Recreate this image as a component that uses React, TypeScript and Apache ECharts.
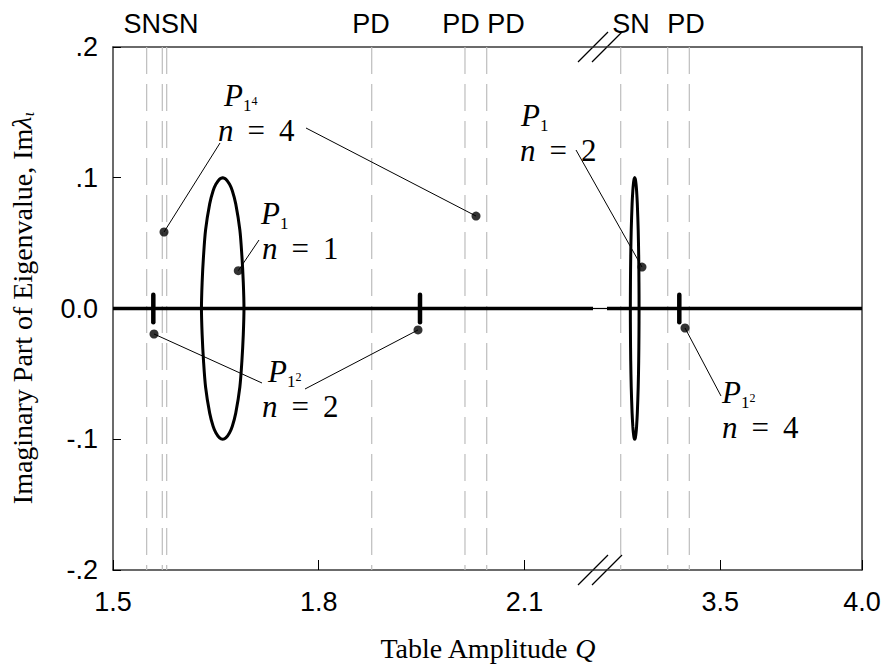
import React, { useEffect, useRef } from "react";
import * as echarts from "echarts";

const SANS = '"Liberation Sans", Arial, sans-serif';
const SERIF = '"Liberation Serif", "Times New Roman", serif';

// Table amplitude Q shown on each side of the axis break
const qLeftRange = [1.5, 2.2];
const qRightRange = [3.1, 4.0];
const qLeftTicks = [1.5, 1.8, 2.1];
const qRightTicks = [3.5, 4.0];
const imRange = [-0.2, 0.2];

// Bifurcation values of Q (dashed verticals) and their tags along the top
const bifurcationsLeft = [1.5491, 1.5719, 1.5783, 1.8773, 2.0133, 2.045];
const bifurcationsRight = [3.1484, 3.3143, 3.3905];
const bifurcationTags = ["SNSN", "PD", "PD", "PD", "SN", "PD"];

// Real eigenvalues: Im = 0 along the whole range
const realAxisLeft = [[1.5, 0], [2.2, 0]];
const realAxisRight = [[3.1, 0], [4.0, 0]];

// Complex-conjugate loop of P1, n = 1
const loopP1n1 = [
  [1.66, 0.1], [1.6645, 0.099], [1.67, 0.095], [1.674, 0.09], [1.679, 0.08], [1.685, 0.06], [1.688, 0.04],
  [1.69, 0.02], [1.691, 0], [1.69, -0.02], [1.688, -0.04], [1.685, -0.06], [1.679, -0.08],
  [1.674, -0.09], [1.67, -0.095], [1.6645, -0.099], [1.66, -0.1], [1.6555, -0.099], [1.65, -0.095],
  [1.646, -0.09], [1.641, -0.08], [1.635, -0.06], [1.632, -0.04], [1.63, -0.02], [1.629, 0],
  [1.63, 0.02], [1.632, 0.04], [1.635, 0.06], [1.641, 0.08], [1.646, 0.09], [1.65, 0.095],
  [1.6555, 0.099], [1.66, 0.1],
];

// Complex-conjugate loop of P1, n = 2
const loopP1n2 = [
  [3.1978, 0.1], [3.2, 0.099], [3.2026, 0.095], [3.2045, 0.09], [3.207, 0.08], [3.2101, 0.06],
  [3.2119, 0.04], [3.2128, 0.02], [3.2132, 0], [3.2128, -0.02], [3.2119, -0.04], [3.2101, -0.06],
  [3.207, -0.08], [3.2045, -0.09], [3.2026, -0.095], [3.2, -0.099], [3.1978, -0.1],
  [3.1956, -0.099], [3.193, -0.095], [3.1911, -0.09], [3.1886, -0.08], [3.1855, -0.06],
  [3.1837, -0.04], [3.1828, -0.02], [3.1824, 0], [3.1828, 0.02], [3.1837, 0.04], [3.1855, 0.06],
  [3.1886, 0.08], [3.1911, 0.09], [3.193, 0.095], [3.1956, 0.099], [3.1978, 0.1],
];

// Short complex excursions
const spurP12n2a = [[1.5588, 0.0105], [1.5588, -0.0105]];
const spurP12n2b = [[1.9477, 0.0105], [1.9477, -0.0105]];
const spurP12n4 = [[3.3552, 0.0105], [3.3552, -0.0105]];

// Marked eigenvalues referred to by the annotations
const markedLeft = [[1.5744, 0.0585], [2.0294, 0.0707], [1.6827, 0.0289], [1.5598, -0.0195], [1.9448, -0.0164]];
const markedRight = [[3.2235, 0.0317], [3.3753, -0.0149]];

// ---- layout ----
const GRID_TOP = 47;
const GRID_H = 523;
const LEFT = 113;
const BREAK_L = 593;
const BREAK_R = 607;
const RIGHT = 862;
const tagX = [161, 371, 461, 506, 631, 686];
const frame = { color: "#3a3a3a", width: 1.5 };
const NOTE_SIZE = 31;
const NOTE_LINE = 34;

type Note = {
  px: number; base: number; sup: string; n: string; nx: number;
  leaders: { from: [number, number]; side: "L" | "R"; dot: number }[];
};
const notes: Note[] = [
  { px: 224, base: 107, sup: "4", n: "4", nx: 218, leaders: [
    { from: [220, 143], side: "L", dot: 0 }, { from: [306, 128], side: "L", dot: 1 }] },
  { px: 261, base: 225, sup: "", n: "1", nx: 262, leaders: [{ from: [259, 240], side: "L", dot: 2 }] },
  { px: 268, base: 383, sup: "2", n: "2", nx: 262, leaders: [
    { from: [262, 383], side: "L", dot: 3 }, { from: [305, 389], side: "L", dot: 4 }] },
  { px: 521, base: 127, sup: "", n: "2", nx: 520, leaders: [{ from: [576, 150], side: "R", dot: 0 }] },
  { px: 722, base: 404, sup: "2", n: "4", nx: 722, leaders: [{ from: [721, 396], side: "R", dot: 1 }] },
];

const imLabel = (v: number) => {
  const r = Math.round(v * 10);
  if (r === 0) return "0.0";
  return (r < 0 ? "-" : "") + "." + Math.abs(r);
};

function xAxes(grid: number, range: number[], ticks: number[]) {
  return [
    {
      gridIndex: grid, type: "value", position: "bottom", min: range[0], max: range[1],
      axisLine: { show: true, onZero: false, lineStyle: frame },
      axisTick: { show: true, inside: true, length: 10, customValues: ticks, lineStyle: { color: "#000", width: 1 } },
      axisLabel: {
        show: true, customValues: ticks, margin: 18, formatter: (v: number) => v.toFixed(1),
        fontSize: 27, fontFamily: SANS, color: "#000",
      },
      splitLine: { show: false },
    },
    {
      gridIndex: grid, type: "value", position: "top", min: range[0], max: range[1],
      axisLine: { show: true, onZero: false, lineStyle: frame },
      axisTick: { show: false }, axisLabel: { show: false }, splitLine: { show: false },
    },
  ];
}

function buildOption() {
  const series: any[] = [];
  const line = (xi: number, yi: number, data: number[][], width: number, extra: any = {}) =>
    series.push({
      type: "line", xAxisIndex: xi, yAxisIndex: yi, data, symbol: "none", silent: true, z: 3,
      lineStyle: { color: "#000", width, cap: "round" }, ...extra,
    });

  const dashed = { z: 1, lineStyle: { color: "#bdbdbd", width: 1.2, type: [27, 10] } };
  bifurcationsLeft.forEach((q) => line(0, 0, [[q, imRange[1]], [q, imRange[0]]], 1, dashed));
  bifurcationsRight.forEach((q) => line(2, 1, [[q, imRange[1]], [q, imRange[0]]], 1, dashed));

  const thick = { lineStyle: { color: "#000", width: 3.5, cap: "butt" } };
  line(0, 0, realAxisLeft, 3.5, thick);
  line(2, 1, realAxisRight, 3.5, thick);
  line(0, 0, loopP1n1, 3, { smooth: 0.3 });
  line(2, 1, loopP1n2, 3, { smooth: 0.3 });
  line(0, 0, spurP12n2a, 4.5);
  line(0, 0, spurP12n2b, 4.5);
  line(2, 1, spurP12n4, 4.5);

  const dotsL = series.length;
  series.push({ type: "scatter", xAxisIndex: 0, yAxisIndex: 0, data: markedLeft, symbolSize: 9, itemStyle: { color: "#000" }, z: 5, silent: true });
  const dotsR = series.length;
  series.push({ type: "scatter", xAxisIndex: 2, yAxisIndex: 1, data: markedRight, symbolSize: 9, itemStyle: { color: "#000" }, z: 5, silent: true });

  const option = {
    animation: false,
    backgroundColor: "#fff",
    textStyle: { fontFamily: SANS },
    grid: [
      { left: LEFT, top: GRID_TOP, width: BREAK_L - LEFT, height: GRID_H, outerBoundsMode: "none" },
      { left: BREAK_R, top: GRID_TOP, width: RIGHT - BREAK_R, height: GRID_H, outerBoundsMode: "none" },
    ],
    xAxis: [...xAxes(0, qLeftRange, qLeftTicks), ...xAxes(1, qRightRange, qRightTicks)],
    yAxis: [
      {
        gridIndex: 0, type: "value", position: "left", min: imRange[0], max: imRange[1], interval: 0.1,
        axisLine: { show: true, lineStyle: frame },
        axisTick: { show: true, inside: true, length: 8, lineStyle: { color: "#000", width: 1 } },
        axisLabel: { margin: 15, formatter: imLabel, fontSize: 27, fontFamily: SANS, color: "#000" },
        splitLine: { show: false },
      },
      {
        gridIndex: 1, type: "value", position: "right", min: imRange[0], max: imRange[1], interval: 0.1,
        axisLine: { show: true, lineStyle: frame },
        axisTick: { show: false }, axisLabel: { show: false }, splitLine: { show: false },
      },
    ],
    series,
  };
  return { option, dotsL, dotsR };
}

// One text block per annotation: P with subscript 1 (and optional superscript), then "n = k"
function noteText(nt: Note) {
  const x0 = Math.min(nt.px, nt.nx);
  const text = `{p|P}{s|1}${nt.sup ? `{t|${nt.sup}}` : ""}\n{n|n}{e|=}{d|${nt.n}}`;
  const fs = NOTE_SIZE;
  const L = NOTE_LINE;
  const baseOffset = L / 2 + 0.3375 * fs;
  return {
    type: "text", silent: true, x: x0, y: nt.base - baseOffset,
    style: {
      text, fill: "#000", align: "left", verticalAlign: "top",
      font: `${fs}px ${SERIF}`,
      rich: {
        p: { fontFamily: SERIF, fontStyle: "italic", fontSize: fs, lineHeight: L, verticalAlign: "top", padding: [0, 0, 0, nt.px - x0] },
        s: { fontFamily: SERIF, fontSize: 17, lineHeight: 16, verticalAlign: "bottom" },
        t: { fontFamily: SERIF, fontSize: 12, lineHeight: 12, verticalAlign: "bottom", padding: [0, 0, 7, 0] },
        n: { fontFamily: SERIF, fontStyle: "italic", fontSize: fs, lineHeight: L, padding: [0, 0, 0, nt.nx - x0] },
        e: { fontFamily: SERIF, fontSize: fs, lineHeight: L, padding: [0, 14, 0, 14] },
        d: { fontFamily: SERIF, fontSize: fs, lineHeight: L },
      },
    },
  };
}

export default function App() {
  const ref = useRef<HTMLDivElement>(null);

  useEffect(() => {
    const chart = echarts.init(ref.current!, null, { renderer: "svg" });
    const { option, dotsL, dotsR } = buildOption();
    chart.setOption(option);

    const toPx = (side: "L" | "R", p: number[]) =>
      chart.convertToPixel({ seriesIndex: side === "L" ? dotsL : dotsR }, p) as number[];

    const graphic: any[] = [];

    // frame and zero line carried across the break
    const zeroY = toPx("L", [qLeftRange[1], 0])[1];
    [GRID_TOP, GRID_TOP + GRID_H].forEach((yy) => graphic.push({
      type: "line", silent: true, shape: { x1: BREAK_L, y1: yy, x2: BREAK_R, y2: yy },
      style: { stroke: frame.color, lineWidth: frame.width },
    }));
    graphic.push({
      type: "line", silent: true, shape: { x1: BREAK_L, y1: zeroY, x2: BREAK_R, y2: zeroY },
      style: { stroke: "#000", lineWidth: 1.2 },
    });

    // axis break marks
    [GRID_TOP, GRID_TOP + GRID_H].forEach((yy) => {
      [BREAK_L, BREAK_R].forEach((cx) => graphic.push({
        type: "line", silent: true,
        shape: { x1: cx - 15, y1: yy + 15, x2: cx + 15, y2: yy - 15 },
        style: { stroke: "#000", lineWidth: 1.2 },
      }));
    });

    // bifurcation tags
    bifurcationTags.forEach((t, i) => graphic.push({
      type: "text", silent: true, x: tagX[i], y: 24,
      style: { text: t, font: `27px ${SANS}`, fill: "#000", align: "center", verticalAlign: "middle" },
    }));

    // annotations and their leader lines
    notes.forEach((nt) => {
      graphic.push(noteText(nt));
      nt.leaders.forEach((ld) => {
        const d = toPx(ld.side, ld.side === "L" ? markedLeft[ld.dot] : markedRight[ld.dot]);
        graphic.push({
          type: "line", silent: true, z: 10,
          shape: { x1: ld.from[0], y1: ld.from[1], x2: d[0], y2: d[1] },
          style: { stroke: "#000", lineWidth: 1 },
        });
      });
    });

    // y-axis title, rotated: Imaginary Part of Eigenvalue, Im λ_ι
    graphic.push({
      type: "text", silent: true, x: 22, y: 308, rotation: Math.PI / 2,
      style: {
        text: "Imaginary Part of Eigenvalue, Im{l|λ}{s|ι}", font: `28px ${SERIF}`, fill: "#000",
        align: "center", verticalAlign: "middle",
        rich: {
          l: { fontFamily: SERIF, fontStyle: "italic", fontSize: 28, lineHeight: 30, verticalAlign: "top" },
          s: { fontFamily: SERIF, fontStyle: "italic", fontSize: 17, lineHeight: 14, verticalAlign: "bottom" },
        },
      },
    });

    // x-axis title: Table Amplitude Q
    graphic.push({
      type: "text", silent: true, x: (LEFT + RIGHT) / 2, y: 648,
      style: {
        text: "Table Amplitude {q|Q}", font: `28px ${SERIF}`, fill: "#000", align: "center", verticalAlign: "middle",
        rich: { q: { fontFamily: SERIF, fontStyle: "italic", fontSize: 28 } },
      },
    });

    chart.setOption({ graphic });
    return () => chart.dispose();
  }, []);

  return <div ref={ref} style={{ position: "absolute", left: 0, top: 0, width: 888, height: 671 }} />;
}
